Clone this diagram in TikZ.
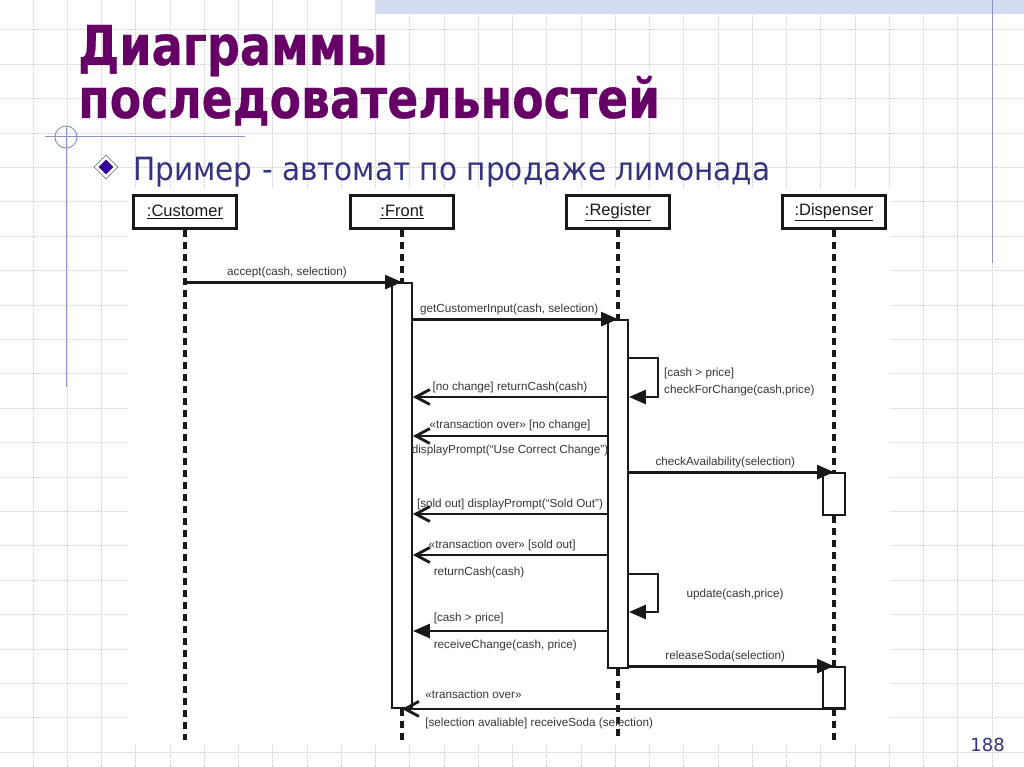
\documentclass[tikz,border=0pt]{standalone}
\usepackage{fontspec}
\usepackage{graphicx}
\setmainfont{Liberation Sans}
\newfontfamily\tahoma{DejaVu Sans}
\newfontfamily\titlefont[BoldFeatures={FakeBold=0.5}]{DejaVu Sans}
\usetikzlibrary{arrows.meta, shapes.geometric, positioning}

\definecolor{titlepurple}{RGB}{102,0,102}
\definecolor{subblue}{RGB}{51,51,128}
\definecolor{bulletblue}{RGB}{51,0,153}
\definecolor{decoblue}{RGB}{140,150,205}
\definecolor{bandblue}{RGB}{212,220,242}
\definecolor{gridgray}{RGB}{212,212,212}
\definecolor{ink}{RGB}{25,25,25}
\definecolor{msgtext}{RGB}{55,55,55}

\tikzset{
  obj/.style={draw=ink, line width=3.4pt, minimum width=103pt, minimum height=33pt, fill=white,
    font=\fontsize{16.5}{18}\selectfont, text=ink, inner sep=0pt},
  act/.style={draw=ink, line width=1.8pt, fill=white, minimum width=20pt, inner sep=0pt},
  life/.style={draw=ink, line width=3.6pt, dash pattern=on 7pt off 5pt},
  call/.style={draw=ink, line width=2.8pt, -{Triangle[length=17pt,width=14pt]}},
  reply/.style={draw=ink, line width=2.8pt, -{Straight Barb[length=14pt,width=15pt]}},
  msg/.style={font=\fontsize{11.7}{17}\selectfont, text=msgtext, inner sep=2pt},
  gridline/.style={draw=gridgray, line width=0.6pt, densely dotted},
  deco/.style={draw=decoblue, line width=1pt}
}

\begin{document}
\begin{tikzpicture}[x=1pt,y=-1pt]
\useasboundingbox (0,0) rectangle (1024,767);
\fill[white] (0,0) rectangle (1024,767);
\foreach \i in {0,...,28} \draw[gridline] ({33+34.25*\i},0) -- ++(0,767);
\foreach \j in {0,...,21} \draw[gridline] (0,{29.8+34.39*\j}) -- ++(1024,0);
\fill[white] (127,189) rectangle (891,744);
\fill[bandblue] (375,0) rectangle (1024,14);
\draw[deco] (992,0) -- (992,263);
\draw[deco] (66,127) -- (66,387);
\draw[deco] (45,137) -- (245,137);
\draw[deco] (66,137) circle[radius=11];

\node[anchor=base west, inner sep=0pt, text=titlepurple, font=\titlefont\bfseries\fontsize{55}{60}\selectfont] (title1) at (78,65) {\resizebox{310pt}{\height}{Диаграммы}};
\node[anchor=base west, inner sep=0pt, text=titlepurple, font=\titlefont\bfseries\fontsize{55}{60}\selectfont] (title2) at (78,118) {\resizebox{582pt}{\height}{последовательностей}};
\node[diamond, draw=gray, fill=white, line width=0.8pt, minimum size=24pt, inner sep=0pt] (bullet) at (106,167) {};
\node[diamond, fill=bulletblue, minimum size=15pt, inner sep=0pt] (bulletin) at (bullet) {};
\node[anchor=base west, inner sep=0pt, text=subblue, font=\tahoma\fontsize{32}{36}\selectfont] (sub) at (133,181) {\resizebox{637pt}{\height}{Пример - автомат по продаже лимонада}};
\node[anchor=base east, inner sep=0pt, text=subblue, font=\tahoma\fontsize{18}{20}\selectfont] (page) at (1005,751) {188};

\node[obj] (cust) at (185,212) {\underline{:Customer}};
\node[obj] (front) at (402,212) {\underline{:Front}};
\node[obj] (reg) at (618,212) {\underline{:Register}};
\node[obj] (disp) at (834,212) {\underline{:Dispenser}};
\coordinate (bot) at (0,740);

\node[act, minimum height=425pt] (actF) at (402,495.5) {};
\node[act, minimum height=348pt] (actR) at (618,494) {};
\node[act, minimum width=22pt, minimum height=42pt] (actD1) at (834,494) {};
\node[act, minimum width=22pt, minimum height=41pt] (actD2) at (834,687.5) {};

\draw[life] (cust.south) -- (cust |- bot);
\draw[life] (front.south) -- (actF.north);
\draw[life] (actF.south) -- (front |- bot);
\draw[life] (reg.south) -- (actR.north);
\draw[life] (actR.south) -- (reg |- bot);
\draw[life] (disp.south) -- (actD1.north);
\draw[life] (actD1.south) -- (actD2.north);
\draw[life] (actD2.south) -- (disp |- bot);

\coordinate (r3a) at (0,358);
\coordinate (r3b) at (0,397);
\coordinate (r5) at (0,436);
\coordinate (r7) at (0,514);
\coordinate (r8) at (0,555);
\coordinate (r9a) at (0,574);
\coordinate (r9b) at (0,612);
\coordinate (r10) at (0,631);

\draw[call] (cust |- actF.north) -- (actF.north) node[msg, pos=0.47, above=1pt] {accept(cash, selection)};
\draw[call] (actF.east |- actR.north) -- (actR.north) node[msg, pos=0.47, above=1pt] {getCustomerInput(cash, selection)};
\draw[call] (actR.east |- r3a) -- ++(29,0) |- (actR.east |- r3b);
\node[msg, anchor=west, align=left] (chk) at (662,382) {[cash > price]\\checkForChange(cash,price)};
\draw[reply] (actR.west |- r3b) -- (actF.east |- r3b) node[msg, midway, above=1pt] {[no change] returnCash(cash)};
\draw[reply] (actR.west |- r5) -- (actF.east |- r5)
  node[msg, midway, above=2pt] {«transaction over» [no change]}
  node[msg, midway, below=6pt] {displayPrompt(“Use Correct Change”)};
\draw[call] (actR.east |- actD1.north) -- (actD1.north) node[msg, pos=0.47, above=1pt] {checkAvailability(selection)};
\draw[reply] (actR.west |- r7) -- (actF.east |- r7) node[msg, midway, above=1pt] {[sold out] displayPrompt(“Sold Out”)};
\draw[reply] (actR.west |- r8) -- (actF.east |- r8)
  node[msg, pos=0.54, above=1pt] {«transaction over» [sold out]}
  node[msg, pos=0.91, below right=9pt and 0pt] {returnCash(cash)};
\draw[call] (actR.west |- r10) -- (actF.east |- r10)
  node[msg, pos=0.91, above right=4pt and 0pt] {[cash > price]}
  node[msg, pos=0.91, below right=6pt and 0pt] {receiveChange(cash, price)};
\draw[call] (actR.east |- r9a) -- ++(29,0) |- (actR.east |- r9b);
\node[msg] (upd) at (735,594) {update(cash,price)};
\draw[call] (actR.east |- actD2.north) -- (actD2.north) node[msg, pos=0.47, above=1pt] {releaseSoda(selection)};
\draw[reply] (actD2.south east) -- (front |- actD2.south)
  node[msg, pos=0.955, above right=7pt and 0pt] {«transaction over»}
  node[msg, pos=0.955, below right=6pt and 0pt] {[selection avaliable] receiveSoda (selection)};
\end{tikzpicture}
\end{document}
